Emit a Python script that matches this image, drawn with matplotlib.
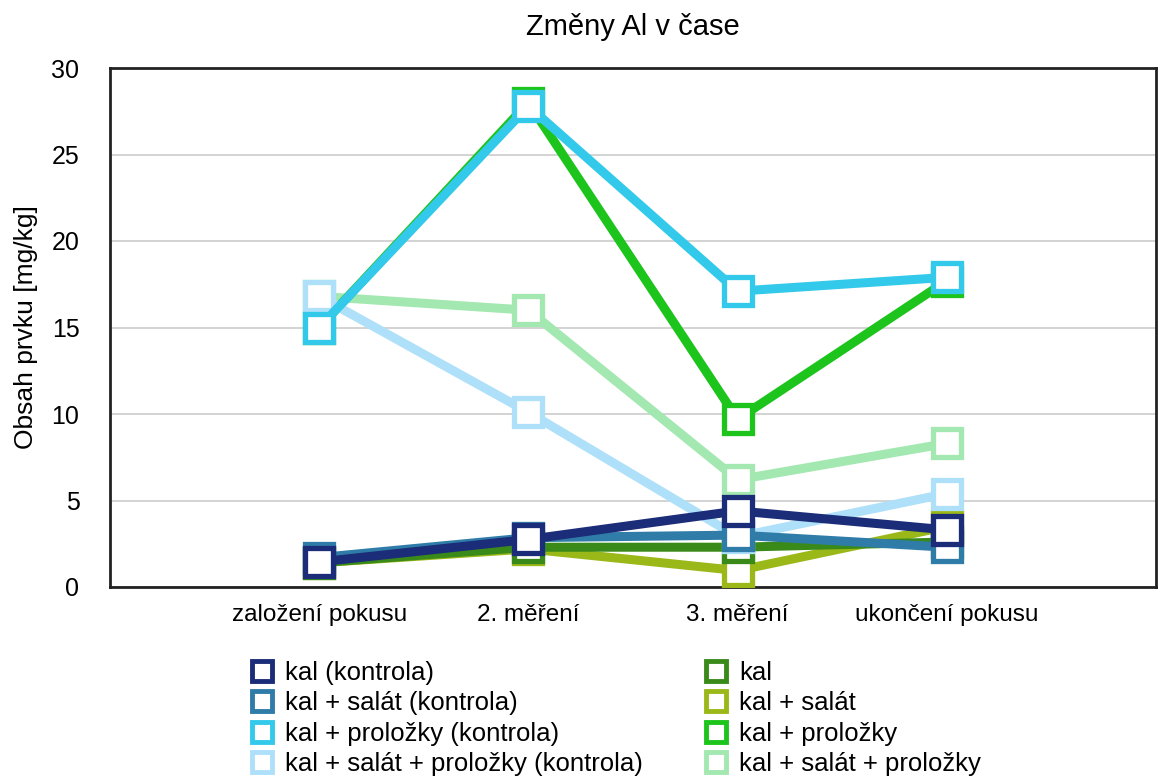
import numpy as np
import matplotlib
matplotlib.use("Agg")
import matplotlib.pyplot as plt

plt.rcParams['font.family'] = ['Liberation Sans', 'DejaVu Sans']

# kategorie (osa x)
mereni = ["založení pokusu", "2. měření", "3. měření", "ukončení pokusu"]

# hodnoty Al [mg/kg]
kal_kontrola = [1.45, 2.75, 4.4, 3.3]
kal_salat_kontrola = [1.7, 2.85, 3.0, 2.3]
kal_prolozky_kontrola = [15.0, 27.8, 17.1, 17.9]
kal_salat_prolozky_kontrola = [16.8, 10.1, 2.9, 5.4]
kal = [1.4, 2.3, 2.3, 2.6]
kal_salat = [1.4, 2.2, 0.95, 3.5]
kal_prolozky = [15.0, 28.0, 9.7, 17.7]
kal_salat_prolozky = [16.8, 16.0, 6.2, 8.3]

serie = [
    ("kal (kontrola)", kal_kontrola, "#1b2c78"),
    ("kal + salát (kontrola)", kal_salat_kontrola, "#2f7ca8"),
    ("kal + proložky (kontrola)", kal_prolozky_kontrola, "#33c9ea"),
    ("kal + salát + proložky (kontrola)", kal_salat_prolozky_kontrola, "#aee0fa"),
    ("kal", kal, "#3a8a1a"),
    ("kal + salát", kal_salat, "#9ab818"),
    ("kal + proložky", kal_prolozky, "#1cc41c"),
    ("kal + salát + proložky", kal_salat_prolozky, "#a2e8b0"),
]

fig = plt.figure(figsize=(11.64, 7.78), dpi=100)
ax = fig.add_axes([110 / 1164, 1 - 587 / 778, (1156 - 110) / 1164, (587 - 68) / 778])

x = np.arange(len(mereni))
handles = {}
# kreslit od konce, aby kal (kontrola) byl navrchu
for i, (nazev, hodnoty, barva) in reversed(list(enumerate(serie))):
    h, = ax.plot(x, hodnoty, color=barva, lw=6.5, marker='s', ms=19.5,
                 mfc='white', mec=barva, mew=3.8, label=nazev, zorder=3 + (8 - i) * 0.1,
                 solid_joinstyle='miter')
    handles[i] = h

ax.set_xlim(-1, 4)
ax.set_ylim(0, 30)
ax.set_yticks([0, 5, 10, 15, 20, 25, 30])
ax.set_xticks(x)
ax.set_xticklabels(mereni, fontsize=17.5)
ax.tick_params(axis='y', labelsize=18, length=0, pad=22)
ax.tick_params(axis='x', length=0, pad=12)
ax.grid(axis='y', color='#cccccc', lw=1.2, zorder=0)
for s in ax.spines.values():
    s.set_linewidth(2)
    s.set_color('#222222')

ax.set_title("Změny Al v čase", fontsize=21, pad=24)
ax.set_ylabel("Obsah prvku [mg/kg]", fontsize=19, labelpad=10)

leg = fig.legend([handles[i] for i in range(8)], [s[0] for s in serie],
                 ncol=2, loc='upper left', bbox_to_anchor=(236 / 1164, 1 - 648 / 778),
                 frameon=False, fontsize=18.5, markerscale=0.75, handlelength=1.0,
                 handletextpad=0.4, columnspacing=2.35, labelspacing=0.25,
                 borderpad=0)
for lh in leg.get_lines():
    lh.set_linewidth(0)
    lh.set_markeredgewidth(3.5)

fig.savefig("out.png", dpi=100)
